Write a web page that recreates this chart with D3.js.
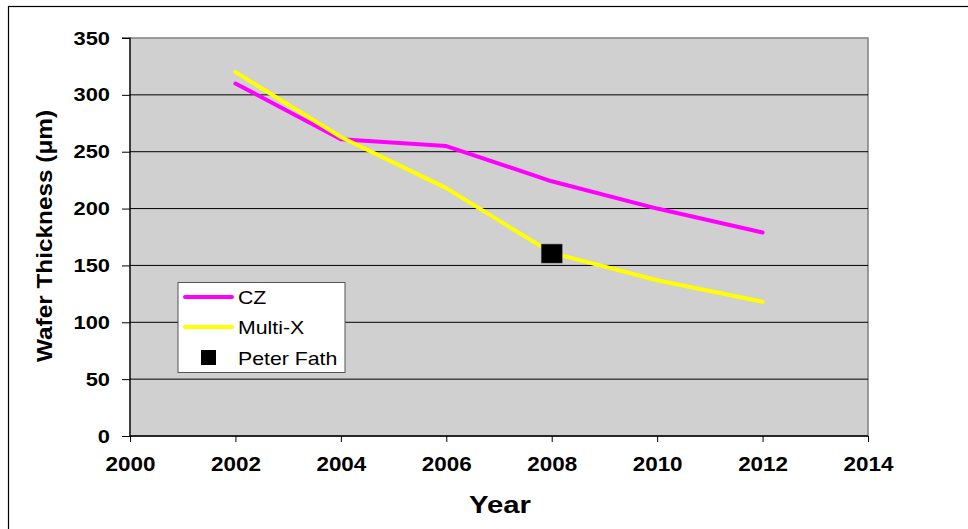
<!DOCTYPE html>
<html><head><meta charset="utf-8">
<script src="https://cdn.jsdelivr.net/npm/d3@7"></script>
<style>body{margin:0;background:#fff}svg{display:block}</style>
</head><body><svg id="c" width="968" height="529"></svg>
<script>
const years = [2002, 2004, 2006, 2008, 2010, 2012];
const czValues = [310, 261, 255, 224, 200, 179];
const multiXValues = [320, 263, 218, 161, 137, 118];
const peterFath = [{year: 2008, value: 160}];
const xTicks = [2000, 2002, 2004, 2006, 2008, 2010, 2012, 2014];
const yTicks = [0, 50, 100, 150, 200, 250, 300, 350];

const svg = d3.select("#c");
const L = 130, R = 868, T = 38, B = 436;
const x = d3.scaleLinear().domain([2000, 2014]).range([L, R]);
const y = d3.scaleLinear().domain([0, 350]).range([B, T]);
const STRETCH = 1.15;
function stretch(sel) {
  sel.each(function() {
    const len = this.getComputedTextLength();
    d3.select(this).attr("textLength", len * STRETCH).attr("lengthAdjust", "spacingAndGlyphs");
  });
}

// outer chart border
svg.append("rect").attr("x", 8.5).attr("y", 6.5).attr("width", 1000).attr("height", 600)
  .attr("fill", "#fff").attr("stroke", "#000").attr("stroke-width", 1.2);

// plot area
svg.append("rect").attr("x", L).attr("y", T).attr("width", R - L).attr("height", B - T)
  .attr("fill", "#d0d0d0").attr("stroke", "#808080").attr("stroke-width", 1.5);

// gridlines
svg.append("g").selectAll("line").data(yTicks.filter(d => d > 0 && d < 350)).join("line")
  .attr("x1", L).attr("x2", R).attr("y1", d => y(d)).attr("y2", d => y(d))
  .attr("stroke", "#000").attr("stroke-width", 1);

const font = "Arial, 'Liberation Sans', sans-serif";

// axes
const yAxis = d3.axisLeft(y).tickValues(yTicks).tickSize(8).tickPadding(12);
const gy = svg.append("g").attr("transform", `translate(${L},0)`).call(yAxis);
gy.select(".domain").attr("stroke", "#000").attr("stroke-width", 1.2).attr("d", `M-8,${T}H0V${B}`);
gy.selectAll(".tick line").attr("stroke", "#000");
gy.selectAll("text").attr("font-family", font).attr("font-size", 19).attr("font-weight", "bold").attr("fill", "#000").call(stretch);

const xAxis = d3.axisBottom(x).tickValues(xTicks).tickFormat(d3.format("d")).tickSize(6).tickPadding(15);
const gx = svg.append("g").attr("transform", `translate(0,${B})`).call(xAxis);
gx.select(".domain").attr("stroke", "#000").attr("stroke-width", 1.5).attr("d", `M${L},0H${R}`);
gx.selectAll(".tick line").attr("stroke", "#000");
gx.selectAll("text").attr("font-family", font).attr("font-size", 19.5).attr("font-weight", "bold").attr("fill", "#000").call(stretch);

// lines
const line = d3.line().x(d => x(d[0])).y(d => y(d[1]));
svg.append("path").datum(years.map((yr, i) => [yr, czValues[i]]))
  .attr("d", line).attr("fill", "none").attr("stroke", "#ff00ff").attr("stroke-width", 4).attr("stroke-linecap", "round").attr("stroke-linejoin", "round");
svg.append("path").datum(years.map((yr, i) => [yr, multiXValues[i]]))
  .attr("d", line).attr("fill", "none").attr("stroke", "#ffff00").attr("stroke-width", 4).attr("stroke-linecap", "round").attr("stroke-linejoin", "round");

// Peter Fath marker
svg.append("g").selectAll("rect").data(peterFath).join("rect")
  .attr("x", d => x(d.year) - 10.5).attr("y", d => y(d.value) - 10)
  .attr("width", 21).attr("height", 19).attr("fill", "#000").attr("stroke", "#666").attr("stroke-width", 0.5);

// axis titles
svg.append("text").attr("x", 500).attr("y", 513).attr("text-anchor", "middle")
  .attr("font-family", font).attr("font-size", 23.5).attr("font-weight", "bold").text("Year")
  .attr("textLength", 62).attr("lengthAdjust", "spacingAndGlyphs");
svg.append("text").attr("transform", "translate(52,236) rotate(-90)").attr("text-anchor", "middle")
  .attr("font-family", font).attr("font-size", 22).attr("font-weight", "bold")
  .text("Wafer Thickness (μm)").attr("textLength", 252).attr("lengthAdjust", "spacingAndGlyphs");

// legend
const lg = svg.append("g");
lg.append("rect").attr("x", 178).attr("y", 282.5).attr("width", 167).attr("height", 90)
  .attr("fill", "#fff").attr("stroke", "#555").attr("stroke-width", 1);
const items = [
  {name: "CZ", type: "line", color: "#ff00ff"},
  {name: "Multi-X", type: "line", color: "#ffff00"},
  {name: "Peter Fath", type: "square", color: "#000"}
];
const rowY = [297, 327, 357.5];
items.forEach((it, i) => {
  if (it.type === "line") {
    lg.append("line").attr("x1", 185).attr("x2", 232).attr("y1", rowY[i]).attr("y2", rowY[i])
      .attr("stroke", it.color).attr("stroke-width", 4).attr("stroke-linecap", "round");
  } else {
    lg.append("rect").attr("x", 201).attr("y", rowY[i] - 7.5).attr("width", 15).attr("height", 15).attr("fill", it.color);
  }
  lg.append("text").attr("x", 238).attr("y", rowY[i] + 7).attr("font-family", font).attr("font-size", 18.5).attr("fill", "#000").text(it.name).call(stretch);
});
</script></body></html>
